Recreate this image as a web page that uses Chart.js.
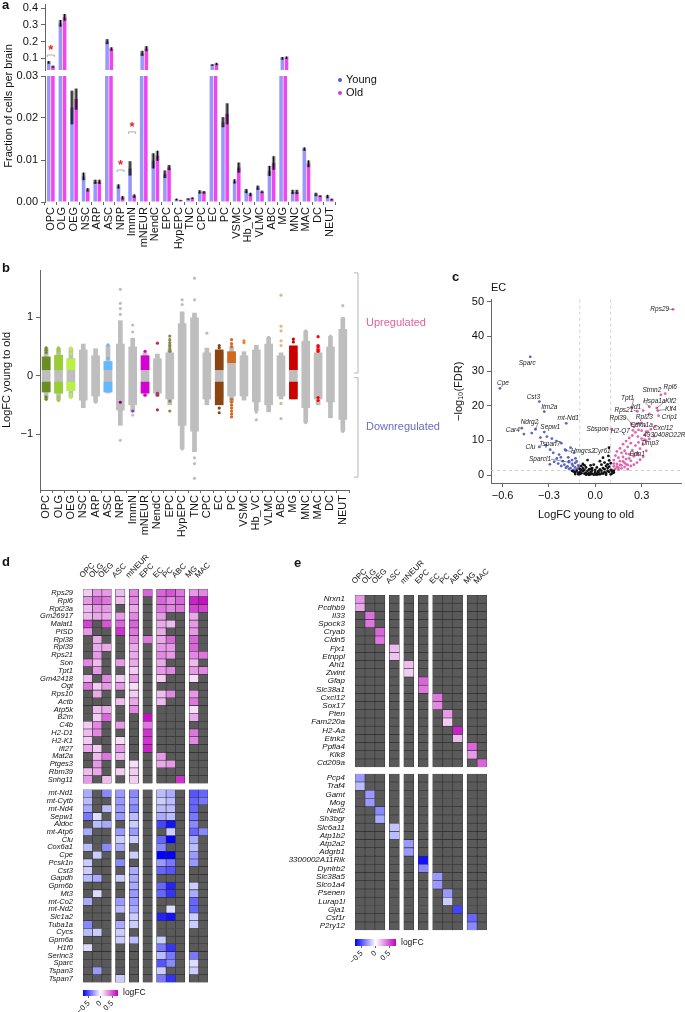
<!DOCTYPE html>
<html>
<head>
<meta charset="utf-8">
<script src="https://cdn.jsdelivr.net/npm/chart.js@4.4.0/dist/chart.umd.min.js"></script>
<style>
  body { margin: 0; background: #fff; font-family: "Liberation Sans", Arial, sans-serif; }
  #page { position: relative; width: 685px; height: 1012px; overflow: hidden; }
  canvas, .t { position: absolute; }
  .t { white-space: nowrap; color: #111; }
  .pl { font-weight: bold; font-size: 13px; }
  .dot { display: inline-block; width: 4px; height: 4px; border-radius: 2px; margin-right: 4px; vertical-align: middle; }
</style>
</head>
<body>
<div id="page">
  <canvas id="aTop" width="345" height="86" style="left:0;top:-6px"></canvas>
  <canvas id="aBot" width="345" height="186" style="left:0;top:66px"></canvas>
  <canvas id="b" width="445" height="295" style="left:0;top:250px"></canvas>
  <canvas id="c" width="233" height="232" style="left:452px;top:290px"></canvas>
  <canvas id="dUp" width="230" height="235" style="left:0;top:555px"></canvas>
  <canvas id="dDown" width="230" height="206" style="left:0;top:783px"></canvas>
  <canvas id="dBar" width="65" height="27" style="left:70px;top:985px"></canvas>
  <canvas id="eUp" width="270" height="214" style="left:240px;top:560px"></canvas>
  <canvas id="eDown" width="270" height="170" style="left:240px;top:767px"></canvas>
  <canvas id="eBar" width="70" height="28" style="left:340px;top:934px"></canvas>

  <div class="t pl" style="left:2px;top:-3px">a</div>
  <div class="t" style="left:8px;top:106px;font-size:11px;transform:translate(-50%,-50%) rotate(-90deg)">Fraction of cells per brain</div>
  <div class="t" style="left:338px;top:73px;font-size:11px"><span class="dot" style="background:#4a5bd0"></span>Young</div>
  <div class="t" style="left:338px;top:86px;font-size:11px"><span class="dot" style="background:#d040d0"></span>Old</div>
  <div class="t pl" style="left:2px;top:260px">b</div>
  <div class="t pl" style="left:452px;top:269px">c</div>
  <div class="t" style="left:491px;top:281px;font-size:11px">EC</div>
  <div class="t pl" style="left:2px;top:554px">d</div>
  <div class="t pl" style="left:294px;top:555px">e</div>
  <div class="t" style="left:123px;top:987px;font-size:8.5px">logFC</div>
  <div class="t" style="left:401px;top:937px;font-size:8.5px">logFC</div>
</div>

<script>
// ---------- panel a: fraction of cells ----------
const cellTypes = ['OPC','OLG','OEG','NSC','ARP','ASC','NRP','ImmN','mNEUR','NendC','EPC','HypEPC','TNC','CPC','EC','PC','VSMC','Hb_VC','VLMC','ABC','MG','MNC','MAC','DC','NEUT'];
const youngFrac = [0.076,0.31,0.0225,0.0061,0.0048,0.2,0.0037,0.008,0.13,0.0098,0.0066,0.0006,0.0007,0.0024,0.06,0.019,0.0049,0.0026,0.0034,0.0074,0.1,0.0024,0.0126,0.0018,0.0013];
const oldFrac   = [0.05,0.346,0.0245,0.0029,0.0048,0.156,0.001,0.0014,0.158,0.011,0.0082,0.0004,0.0009,0.0023,0.066,0.021,0.0082,0.0018,0.0024,0.0093,0.104,0.0024,0.0091,0.0014,0.0006];
const youngErr  = [0.008,0.02,0.004,0.0009,0.0005,0.015,0.0005,0.0017,0.015,0.0018,0.0009,0.0002,0.0002,0.0004,0.005,0.0012,0.0005,0.0005,0.0005,0.0012,0.008,0.0005,0.0004,0.0004,0.0004];
const oldErr    = [0.006,0.02,0.0025,0.0004,0.0005,0.01,0.0004,0.0004,0.015,0.0012,0.0006,0.0001,0.0002,0.0003,0.007,0.0025,0.0012,0.0004,0.0003,0.0016,0.007,0.0005,0.0008,0.0002,0.0002];
const fracTicksTop = [0.1,0.2,0.3,0.4];
const fracTicksBot = [0,0.01,0.02,0.03];
const starCats = ['OPC','NRP','ImmN'];
const starY    = [0.16,0.0092,0.0183];
const bracketY = [0.12,0.0076,0.0167];

// ---------- panel b: logFC per cell type ----------
const fcTailLo = [-0.4,-0.42,-0.37,-0.55,-0.45,-0.3,-0.85,-0.62,-0.35,-0.35,-0.5,-1.25,-1.3,-0.5,-0.45,-0.45,-0.42,-0.6,-0.62,-0.4,-0.4,-0.8,-0.5,-0.72,-0.95];
const fcTailHi = [0.48,0.48,0.48,0.55,0.47,0.53,0.95,0.65,0.4,0.38,0.45,1.1,1.08,0.48,0.45,0.5,0.42,0.53,0.66,0.4,0.5,0.77,0.5,0.68,1.0];
const fcCoreLo = [-0.28,-0.3,-0.25,-0.42,-0.35,-0.28,-0.59,-0.5,-0.3,-0.3,-0.4,-0.85,-0.95,-0.4,-0.4,-0.35,-0.35,-0.45,-0.5,-0.35,-0.35,-0.55,-0.4,-0.45,-0.75];
const fcCoreHi = [0.33,0.35,0.3,0.45,0.35,0.25,0.55,0.5,0.35,0.3,0.4,0.9,1.0,0.4,0.4,0.4,0.35,0.45,0.55,0.35,0.4,0.6,0.4,0.5,0.8];
const N = null;
const upBandLo   = [0.1,0.1,0.1,N,N,0.1,N,N,0.1,N,N,N,N,N,0.1,0.22,N,N,N,N,0.1,N,N,N,N];
const upBandHi   = [0.33,0.36,0.3,N,N,0.25,N,N,0.35,N,N,N,N,N,0.45,0.42,N,N,N,N,0.52,N,N,N,N];
const downBandLo = [-0.28,-0.3,-0.26,N,N,-0.28,N,N,-0.3,N,N,N,N,N,-0.5,N,N,N,N,N,-0.4,N,N,N,N];
const downBandHi = [-0.1,-0.1,-0.1,N,N,-0.1,N,N,-0.1,N,N,N,N,N,-0.1,N,N,N,N,N,-0.1,N,N,N,N];
const outCat = ['OPC','OPC','OPC','OPC','OPC','OLG','OLG','OLG','OLG','OLG','OEG','OEG','OEG','OEG','OEG','ARP','ASC','ASC',
  'NRP','NRP','NRP','NRP','NRP','NRP','NRP','NRP','ImmN','ImmN','ImmN','ImmN','mNEUR','mNEUR','NendC','NendC','NendC','NendC',
  'EPC','EPC','EPC','EPC','EPC','EPC','EPC','EPC','EPC','HypEPC','HypEPC','HypEPC','HypEPC','TNC','TNC','TNC','TNC','TNC','CPC',
  'EC','EC','EC','EC','PC','PC','PC','PC','PC','PC','PC','PC','PC','PC','VSMC','VSMC','Hb_VC','Hb_VC','VLMC',
  'ABC','ABC','ABC','ABC','ABC','ABC','ABC','MG','MG','MNC','MNC','MAC','MAC','MAC','MAC','MAC','MAC','MAC','DC','DC','NEUT','NEUT','NEUT','NEUT'];
const outFC = [0.48,0.44,0.4,-0.4,-0.36,0.48,0.45,0.42,-0.42,-0.36,0.48,0.45,0.38,-0.37,-0.32,-0.45,0.53,0.3,
  1.48,1.24,1.15,1.05,0.85,-1.1,-0.75,-0.45,0.87,0.75,-0.67,-0.6,0.42,-0.33,0.56,-0.3,-0.33,-0.58,
  0.68,0.62,0.57,0.53,0.5,0.46,0.42,-0.43,-0.6,1.3,1.22,-1.25,-1.05,1.67,1.3,-1.4,-1.5,-1.75,0.73,
  0.52,0.48,-0.55,-0.63,0.62,0.55,0.5,-0.4,-0.45,-0.5,-0.55,-0.6,-0.65,-0.7,0.6,0.57,-0.62,-0.75,0.66,
  1.38,0.85,0.77,0.6,0.52,-0.47,-0.73,0.63,0.58,0.77,-0.8,0.67,0.52,0.5,0.45,0.42,-0.37,-0.42,0.68,-0.7,1.2,0.98,0.95,-0.95];
const outSig = [1,1,1,1,1,1,1,1,1,1,1,1,1,1,1,0,1,1,
  0,0,0,0,0,0,0,1,0,0,0,1,1,1,1,1,1,1,
  1,1,1,1,1,1,1,1,1,0,0,0,0,0,0,0,0,0,0,
  1,1,1,1,1,1,1,1,1,1,1,1,1,1,1,1,0,0,0,
  1,1,1,1,1,1,0,1,1,0,0,1,1,1,1,1,1,1,0,0,0,0,0,0];
const fcTicks = [-1,0,1];
const bracketRanges = [[0.05,1.76],[-1.73,-0.03]];

// ---------- panel c: EC volcano ----------
const nsPts = [[-0.14,1.0],[-0.13,0.8],[-0.12,1.2],[-0.11,0.6],[-0.1,0.9],[-0.09,0.5],[-0.08,1.1],[-0.07,0.4],[-0.06,0.7],[-0.05,0.3],
  [-0.04,0.5],[-0.03,0.2],[-0.02,0.4],[-0.01,0.1],[0,0.2],[0.01,0.1],[0.02,0.3],[0.03,0.2],[0.04,0.5],[0.05,0.4],
  [0.06,0.8],[0.07,0.6],[0.08,1.2],[0.09,0.9],[0.1,1.5],[0.11,1.1],[0.12,1.2],[-0.15,1.2],[-0.1,1.8],[-0.09,2.6],
  [-0.08,1.9],[-0.07,1.5],[-0.06,2.2],[-0.05,1.2],[-0.04,1.6],[-0.03,0.9],[-0.02,1.3],[0,0.8],[0.02,1.1],[0.03,1.6],
  [0.04,1.2],[0.05,2.0],[0.06,1.7],[0.07,2.6],[0.08,3.1],[0.09,2.4],[0.1,3.4],[-0.08,3.2],[-0.05,4.3],[-0.03,2.8],
  [0.01,2.2],[0.04,3.0],[0.06,3.6],[0.09,4.2],[-0.06,0.1],[0.07,0.1],[-0.1,0.3],[0.11,0.5],[-0.13,0.3],[0.12,0.7],
  [-0.02,2.0],[0,1.5],[0.03,4.0],[-0.01,3.0],[0.05,5.0],[-0.07,2.8],[-0.04,0.05],[0.0,0.5],[0.02,0.7],[-0.03,1.8],
  [-0.11,0.2],[0.1,0.2],[0.085,5.5],[-0.09,1.4],[0.08,2.0]];
const downPts = [[-0.411,12.1],[-0.355,10.8],[-0.313,11.1],[-0.281,10.5],[-0.251,9.8],[-0.319,8.6],[-0.292,7.3],[-0.272,6.4],
  [-0.234,5.9],[-0.223,5.1],[-0.294,3.1],[-0.196,7.3],[-0.16,7.9],[-0.138,6.4],[-0.249,4.8],[-0.266,3.8],[-0.175,5.1],[-0.128,4.8],
  [-0.2,3.0],[-0.18,2.5],[-0.16,2.0],[-0.15,3.2],[-0.13,2.2],[-0.12,1.6],[-0.14,1.5],[-0.17,1.8],[-0.11,2.8],[-0.19,2.1],
  [-0.22,2.6],[-0.13,3.5],[-0.15,4.3],[-0.12,3.9],[-0.17,4.0],[-0.21,4.0],[-0.24,3.3],[-0.11,1.9],[-0.105,2.5],[-0.145,2.7],[-0.476,13.5]];
const upPts = [[0.11,1.5],[0.12,2.5],[0.13,1.8],[0.14,3.2],[0.15,2.1],[0.16,4.0],[0.17,2.8],[0.18,5.2],[0.19,3.5],[0.2,4.6],
  [0.21,2.9],[0.22,6.0],[0.23,4.1],[0.24,7.2],[0.25,5.4],[0.26,8.5],[0.27,6.3],[0.28,9.4],[0.29,7.6],[0.3,10.5],
  [0.31,8.8],[0.32,11.6],[0.33,9.9],[0.34,12.5],[0.36,13.2],[0.12,4.3],[0.13,5.6],[0.14,6.8],[0.15,5.0],[0.16,7.7],
  [0.17,6.4],[0.18,8.9],[0.19,7.0],[0.2,9.8],[0.21,8.1],[0.22,10.7],[0.23,9.2],[0.24,11.4],[0.26,12.3],[0.28,13.0],
  [0.3,12.8],[0.15,1.6],[0.17,1.9],[0.19,2.3],[0.21,1.7],[0.23,2.6],[0.25,3.0],[0.27,3.6],[0.29,4.4],[0.31,5.3],
  [0.12,3.3],[0.14,2.4],[0.16,2.9],[0.18,3.9],[0.2,3.1],[0.22,4.8],[0.25,6.1],[0.28,5.8],[0.33,7.0],[0.35,10.4],
  [0.38,11.2],[0.32,14.2],[0.27,14.8],[0.25,13.9],[0.276,11.1]];
const labGenes = ['Rps29','Sparc','Cpe','Cst3','Itm2a','mt-Nd1','Ndrg2','Car4','Sepw1','Clu','Tspan7','Hmgcs2','Sparcl1',
  'Sbspon','H2-Q7','Rpl39','Rps21','Tpt1','Id1','Stmn2','Rpl6','Hspa1a','Klf2','Klf4','Crip1','Rpl23','Cdkn1a','Cxcl12',
  '4930408O22Rik','Timp3','Cyr61','Edn1'];
const labFC  = [0.504,-0.421,-0.617,-0.362,-0.33,-0.188,-0.387,-0.462,-0.33,-0.362,-0.22,-0.19,-0.17,
  0.106,0.244,0.234,0.272,0.234,0.31,0.425,0.453,0.35,0.398,0.404,0.41,0.35,0.3,0.387,0.33,0.32,0.089,0.2];
const labFDR = [47.8,34.1,25,21.2,18.3,14.9,13.2,11.8,12.4,8.1,9.2,7.1,3.7,
  13.2,12.9,14.8,18.4,19.5,18.6,23.1,23.5,19.7,19.3,18.6,17.1,17.6,15,14,12.5,10.2,7.9,6.2];
const labPlace = { // [dx, dy, align, leader line]
  'Rps29':[-4,0,'right',1],'Sparc':[-3,6,'center',0],'Cpe':[3,-5,'center',0],'Cst3':[-6,-4,'center',0],
  'Itm2a':[5,-4,'center',0],'mt-Nd1':[2,-5,'center',0],'Ndrg2':[-6,-7,'center',1],'Car4':[-4,-4,'right',0],
  'Sepw1':[6,-5,'center',0],'Clu':[-4,0,'right',0],'Tspan7':[-1,1,'right',0],'Hmgcs2':[5,1,'left',1],
  'Sparcl1':[-18,-3,'right',1],'Sbspon':[-3,0,'right',0],'H2-Q7':[-3,1,'right',0],'Rpl39':[-5,-6,'right',1],
  'Rps21':[-4,-1,'right',1],'Tpt1':[-4,-9,'center',1],'Id1':[-2,-3,'right',0],'Stmn2':[-9,-5,'center',0],
  'Rpl6':[5,-6,'center',0],'Hspa1a':[5,-6,'center',1],'Klf2':[14,-7,'center',1],'Klf4':[13,-1,'center',1],
  'Crip1':[11,1,'center',0],'Rpl23':[-5,3,'center',0],'Cdkn1a':[0,2,'center',1],'Cxcl12':[8,2,'center',0],
  '4930408O22Rik':[-3,3,'left',0],'Timp3':[5,4,'center',0],'Cyr61':[-7,4,'center',0],'Edn1':[11,1,'center',0]
};
const volcanoXTicks = [-0.6,-0.3,0,0.3];
const volcanoYTicks = [0,10,20,30,40,50];
const fcCut = 0.1;
const fdrCut = 1.3;

// ---------- panels d, e: heatmaps ----------
const hmCols = ['OPC','OLG','OEG','ASC','mNEUR','EPC','EC','PC','ABC','MG','MAC'];
const hmGroups = [3,1,1,1,3,2];
const dUpGenes = ['Rps29','Rpl6','Rpl23a','Gm26917','Malat1','PISD','Rpl38','Rpl39','Rps21','Son','Tpt1','Gm42418','Ogt',
  'Rps10','Actb','Atp5k','B2m','C4b','H2-D1','H2-K1','Ifi27','Mat2a','Ptges3','Rbm39','Snhg11'];
const dUpVals = [
  [0.15,0.3,0.3,0.2,0.35,0.45,0.45,0.5,0.4,0.3,0.35],
  [0.3,0.45,0.4,0.2,0.35,N,0.45,0.35,0.45,0.65,0.7],
  [0.2,0.3,0.3,N,0.25,N,0.4,0.35,0.4,0.55,0.55],
  [0.2,0.25,0.25,0.3,0.35,N,0.3,N,N,0.25,N],
  [0.55,N,0.5,0.45,0.45,N,0.25,0.2,N,0.3,N],
  [0.3,N,N,0.6,0.4,N,0.25,N,N,0.3,N],
  [N,0.25,N,N,0.35,0.4,0.25,0.45,N,0.45,N],
  [N,0.25,0.25,N,0.25,N,0.3,0.3,N,0.45,N],
  [N,0.3,N,N,0.25,N,0.35,0.3,N,0.35,0.4],
  [0.35,0.2,N,0.3,0.25,N,0.25,N,N,0.2,N],
  [N,0.3,N,N,0.15,N,0.3,0.35,N,0.3,0.35],
  [0.2,N,0.35,0.15,0.3,N,0.15,N,N,0.1,N],
  [0.4,0.15,0.3,0.3,0.1,N,N,N,N,N,N],
  [N,0.25,N,N,0.15,N,0.2,0.35,N,0.3,N],
  [N,N,N,0.2,0.25,N,0.2,N,N,0.4,N],
  [N,0.2,0.25,N,0.35,N,N,N,N,0.1,N],
  [N,0.15,0.45,N,N,0.7,N,N,N,0.25,N],
  [0.15,0.35,N,0.3,N,0.4,N,N,N,N,N],
  [0.2,0.35,N,N,N,0.6,N,N,N,0.4,N],
  [0.15,N,N,0.1,N,0.6,N,N,N,0.35,N],
  [0.25,0.15,N,0.3,N,0.65,N,N,N,N,N],
  [N,0.2,0.4,0.2,N,N,0.3,N,N,N,N],
  [N,0.3,N,N,0.1,N,0.25,0.3,N,N,N],
  [0.2,0.25,N,0.15,0.15,N,N,N,N,N,N],
  [0.3,N,0.2,N,0.15,N,N,N,0.6,N,N]
];
const dDownGenes = ['mt-Nd1','mt-Cytb','mt-Nd4','Sepw1','Aldoc','mt-Atp6','Clu','Cox6a1','Cpe','Pcsk1n','Cst3','Gapdh','Gpm6b',
  'Mt3','mt-Co2','mt-Nd2','Slc1a2','Tuba1a','Cycs','Gpm6a','H1f0','Serinc3','Sparc','Tspan3','Tspan7'];
const dDownVals = [
  [-0.25,N,-0.35,-0.3,-0.35,N,-0.2,-0.25,N,-0.5,-0.45],
  [-0.2,N,N,-0.3,-0.3,N,-0.15,-0.2,N,-0.45,-0.4],
  [-0.25,N,-0.2,-0.3,-0.35,N,-0.2,-0.2,N,-0.45,N],
  [-0.4,-0.1,N,-0.3,-0.2,N,-0.25,-0.2,N,-0.4,N],
  [N,-0.2,-0.25,N,-0.15,N,-0.55,-0.7,N,-0.35,N],
  [-0.25,N,N,-0.3,-0.3,N,N,-0.15,N,-0.45,-0.35],
  [N,N,N,-0.15,-0.15,N,-0.45,-0.75,N,-0.25,N],
  [-0.2,N,-0.35,-0.25,N,N,-0.35,N,N,-0.2,N],
  [N,-0.15,N,N,-0.15,N,-0.75,-0.8,N,-0.3,N],
  [-0.15,N,N,-0.35,N,N,-0.3,-0.4,N,-0.3,N],
  [-0.15,N,N,N,-0.25,N,-0.45,-0.5,N,N,N],
  [-0.2,-0.25,N,-0.15,-0.25,N,N,N,N,N,N],
  [N,N,N,N,-0.25,N,-0.45,-0.65,N,-0.15,N],
  [N,-0.1,N,N,-0.3,N,-0.45,-0.6,N,-0.25,N],
  [-0.25,N,N,-0.3,-0.3,N,N,N,N,-0.45,N],
  [N,N,N,-0.2,-0.25,N,N,-0.1,N,-0.45,N],
  [N,N,N,N,-0.15,N,-0.65,-0.7,N,-0.15,N],
  [-0.35,N,N,-0.25,-0.15,N,N,N,N,-0.15,N],
  [-0.2,-0.15,N,-0.15,N,N,N,N,N,N,N],
  [N,N,N,-0.15,-0.2,N,-0.15,N,N,N,N],
  [-0.1,N,N,N,N,N,-0.4,-0.6,N,N,N],
  [N,N,N,N,N,N,-0.2,-0.4,N,-0.4,N],
  [N,N,N,N,N,N,-0.5,-0.35,N,-0.1,N],
  [N,-0.3,N,N,N,N,-0.15,N,N,-0.15,N],
  [N,N,N,-0.15,N,N,-0.4,-0.6,N,N,N]
];
const eUpGenes = ['Nrxn1','Pcdhb9','Il33','Spock3','Cryab','Cldn5','Fjx1','Etnppl','Ahi1','Zwint','Gfap','Slc38a1','Cxcl12',
  'Sox17','Pten','Fam220a','H2-Aa','Etnk2','Ppfia4','Klk8','Cd209a'];
const eUpCol = [0,0,1,1,2,2,3,3,4,4,5,5,6,6,7,7,8,8,9,9,10];
const eUpVal = [0.3,0.25,0.42,0.4,0.45,0.4,0.2,0.18,0.2,0.15,0.45,0.4,0.4,0.35,0.3,0.15,0.65,0.2,0.45,0.3,0.45];
const eDownGenes = ['Pcp4','Traf4','Gamt','Mog','Nell2','Sh3bgr','Slc6a11','Atp1b2','Atp2a2','Adgrb1','3300002A11Rik','Dynlrb2',
  'Slc38a5','Slco1a4','Psenen','Lurap1l','Gja1','Csf1r','P2ry12'];
const eDownCol = [0,0,1,1,2,2,3,3,4,4,5,5,6,6,7,7,8,9,9];
const eDownVal = [-0.3,-0.2,-0.3,-0.3,-0.35,-0.25,-0.18,-0.2,-0.3,-0.3,-0.7,-0.35,-0.3,-0.3,-0.3,-0.15,-0.55,-0.45,-0.35];
const logFCTicks = [-0.5,0,0.5];

// ---------- styling ----------
Chart.defaults.font.family = '"Liberation Sans", Arial, sans-serif';
Chart.defaults.color = '#111';
Chart.defaults.animation = false;
Chart.defaults.responsive = false;
Chart.defaults.plugins.legend.display = false;
Chart.defaults.plugins.tooltip.enabled = false;

const youngColor = 'rgb(152,152,252)';
const oldColor = 'rgb(240,70,240)';
const axisColor = '#666';
const bGray = '#bebebe';
const bColors = { OPC:'#6b8e23', OLG:'#9acd32', OEG:'#b8f045', ASC:'#63b8ff', NRP:'#8b008b', ImmN:'#9932cc', mNEUR:'#d400d4',
  NendC:'#b03060', EPC:'#8b864e', EC:'#8b4513', PC:'#d2691e', VSMC:'#f08030', ABC:'#deb887', MG:'#cd0000', MAC:'#ff0000' };
const naColor = '#5a5a5a';

const minus = (v, d) => (v < 0 ? '\u2212' : '') + Math.abs(v).toFixed(d);
const setTicks = vals => s => { s.ticks = vals.map(v => ({ value: v })); };

function fcColor(v) {
  if (v === null || v === undefined) return naColor;
  const t = Math.min(Math.abs(v) / 0.75, 1);
  if (v < 0) return `rgb(${Math.round(255 * (1 - t))},${Math.round(255 * (1 - t))},255)`;
  return `rgb(${Math.round(255 - 63 * t)},${Math.round(255 * (1 - t))},${Math.round(255 - 63 * t)})`;
}

// error bars for panel a
const errorBars = {
  id: 'errorBars',
  afterDatasetsDraw(chart) {
    const { ctx, chartArea: ca, scales: { y } } = chart;
    ctx.save();
    ctx.beginPath();
    ctx.rect(ca.left, ca.top, ca.right - ca.left, ca.bottom - ca.top);
    ctx.clip();
    chart.data.datasets.forEach((ds, di) => {
      chart.getDatasetMeta(di).data.forEach((bar, i) => {
        const v = ds.data[i], e = ds.errors[i];
        const y1 = y.getPixelForValue(v + e), y0 = y.getPixelForValue(v - e);
        ctx.fillStyle = 'rgba(45,45,45,0.55)';
        ctx.fillRect(bar.x - bar.width / 2, y1, bar.width, y0 - y1);
        ctx.strokeStyle = '#000';
        ctx.lineWidth = 1;
        ctx.beginPath();
        ctx.moveTo(bar.x, y1);
        ctx.lineTo(bar.x, y0);
        ctx.stroke();
      });
    });
    ctx.restore();
  }
};

const sigStars = {
  id: 'sigStars',
  afterDatasetsDraw(chart) {
    const { ctx, scales: { x, y } } = chart;
    ctx.save();
    starCats.forEach((c, i) => {
      if (starY[i] < y.min || starY[i] > y.max) return;
      const px = x.getPixelForValue(cellTypes.indexOf(c));
      const by = y.getPixelForValue(bracketY[i]);
      ctx.strokeStyle = '#999';
      ctx.lineWidth = 0.8;
      ctx.beginPath();
      ctx.moveTo(px - 3.5, by + 2); ctx.lineTo(px - 3.5, by); ctx.lineTo(px + 3.5, by); ctx.lineTo(px + 3.5, by + 2);
      ctx.stroke();
      ctx.fillStyle = '#f02020';
      ctx.font = 'bold 13px "Liberation Sans"';
      ctx.textAlign = 'center';
      ctx.fillText('*', px, y.getPixelForValue(starY[i]) + 6);
    });
    ctx.restore();
  }
};

function fracChart(id, min, max, ticks, decimals, showX, pad) {
  return new Chart(document.getElementById(id), {
    type: 'bar',
    data: {
      labels: cellTypes,
      datasets: [
        { label: 'Young', data: youngFrac, errors: youngErr, backgroundColor: youngColor },
        { label: 'Old', data: oldFrac, errors: oldErr, backgroundColor: oldColor }
      ]
    },
    options: {
      layout: { padding: pad },
      datasets: { bar: { categoryPercentage: 0.72, barPercentage: 0.85 } },
      scales: {
        x: {
          display: showX,
          ticks: { autoSkip: false, minRotation: 90, maxRotation: 90, padding: 2, font: { size: 11 } },
          grid: { drawOnChartArea: false, tickLength: 3, color: axisColor },
          border: { display: false },
          afterFit: s => { if (showX) s.height = 50; }
        },
        y: {
          min: min, max: max,
          afterBuildTicks: setTicks(ticks),
          ticks: { font: { size: 11 }, padding: 3, callback: v => v.toFixed(decimals) },
          grid: { drawOnChartArea: false, tickLength: 4, color: axisColor },
          border: { color: axisColor },
          afterFit: s => { s.width = 45; }
        }
      }
    },
    plugins: [errorBars, sigStars]
  });
}

fracChart('aTop', 0.03, 0.426, fracTicksTop, 1, false, { top: 10, right: 8, bottom: 10, left: 0 });
fracChart('aBot', 0, 0.03, fracTicksBot, 2, true, { top: 10, right: 8, bottom: 0, left: 0 });

// ---------- panel b ----------
const regBrackets = {
  id: 'regBrackets',
  afterDraw(chart) {
    const { ctx, chartArea: ca, scales: { y } } = chart;
    const bx = ca.right + 9;
    ctx.save();
    ctx.strokeStyle = '#b5b5b5';
    ctx.lineWidth = 1;
    bracketRanges.forEach(([lo, hi]) => {
      const y0 = y.getPixelForValue(lo), y1 = y.getPixelForValue(hi);
      ctx.beginPath();
      ctx.moveTo(bx - 4, y1); ctx.lineTo(bx, y1); ctx.lineTo(bx, y0); ctx.lineTo(bx - 4, y0);
      ctx.stroke();
    });
    ctx.font = '11px "Liberation Sans"';
    ctx.textBaseline = 'middle';
    ctx.fillStyle = '#e0609a';
    ctx.fillText('Upregulated', ca.right + 17, y.getPixelForValue(0.9));
    ctx.fillStyle = '#6a6ac4';
    ctx.fillText('Downregulated', ca.right + 17, y.getPixelForValue(-0.88));
    ctx.restore();
  }
};

new Chart(document.getElementById('b'), {
  type: 'bar',
  data: {
    labels: cellTypes,
    datasets: [
      { order: 4, data: cellTypes.map((c, i) => [fcTailLo[i], fcTailHi[i]]), backgroundColor: bGray, barPercentage: 0.38 },
      { order: 3, data: cellTypes.map((c, i) => [fcCoreLo[i], fcCoreHi[i]]), backgroundColor: bGray, barPercentage: 0.7 },
      { order: 2, data: cellTypes.map((c, i) => upBandLo[i] === null ? null : [upBandLo[i], upBandHi[i]]),
        backgroundColor: cellTypes.map(c => bColors[c] || bGray), barPercentage: 0.7 },
      { order: 1, data: cellTypes.map((c, i) => downBandLo[i] === null ? null : [downBandLo[i], downBandHi[i]]),
        backgroundColor: cellTypes.map(c => bColors[c] || bGray), barPercentage: 0.7 },
      { order: 0, type: 'scatter', data: outCat.map((c, i) => ({ x: c, y: outFC[i] })),
        pointBackgroundColor: outCat.map((c, i) => outSig[i] ? bColors[c] : bGray),
        pointBorderWidth: 0, pointRadius: 1.6 }
    ]
  },
  options: {
    layout: { padding: { top: 20, right: 96, bottom: 0, left: 0 } },
    datasets: { bar: { grouped: false, categoryPercentage: 1 } },
    scales: {
      x: {
        type: 'category',
        ticks: { autoSkip: false, minRotation: 90, maxRotation: 90, padding: 2, font: { size: 11 } },
        grid: { drawOnChartArea: false, tickLength: 3, color: axisColor },
        border: { color: axisColor },
        afterFit: s => { s.height = 55; }
      },
      y: {
        min: -1.95, max: 1.81,
        afterBuildTicks: setTicks(fcTicks),
        ticks: { font: { size: 11 }, padding: 3, callback: v => minus(v, 0) },
        grid: { drawOnChartArea: false, tickLength: 4, color: axisColor },
        border: { color: axisColor },
        title: { display: true, text: 'LogFC young to old', font: { size: 11 }, padding: { top: 0, bottom: 2 } },
        afterFit: s => { s.width = 40; }
      }
    }
  },
  plugins: [regBrackets]
});

// ---------- panel c ----------
const volcanoGuides = {
  id: 'volcanoGuides',
  beforeDatasetsDraw(chart) {
    const { ctx, chartArea: ca, scales: { x, y } } = chart;
    ctx.save();
    ctx.strokeStyle = '#c4c4c4';
    ctx.lineWidth = 0.8;
    ctx.setLineDash([3, 3]);
    [-fcCut, fcCut].forEach(v => {
      const px = x.getPixelForValue(v);
      ctx.beginPath(); ctx.moveTo(px, ca.top); ctx.lineTo(px, ca.bottom); ctx.stroke();
    });
    const py = y.getPixelForValue(fdrCut);
    ctx.beginPath(); ctx.moveTo(ca.left, py); ctx.lineTo(ca.right, py); ctx.stroke();
    ctx.restore();
  }
};

const volcanoLabels = {
  id: 'volcanoLabels',
  afterDatasetsDraw(chart) {
    const { ctx, scales: { x, y } } = chart;
    ctx.save();
    ctx.font = 'italic 6.5px "Liberation Sans"';
    ctx.textBaseline = 'middle';
    ctx.fillStyle = '#222';
    ctx.strokeStyle = '#333';
    ctx.lineWidth = 0.5;
    labGenes.forEach((g, i) => {
      const px = x.getPixelForValue(labFC[i]), py = y.getPixelForValue(labFDR[i]);
      const [dx, dy, align, line] = labPlace[g];
      const tx = px + dx, ty = py + dy;
      ctx.textAlign = align;
      ctx.fillText(g, tx, ty);
      if (line) {
        const w = ctx.measureText(g).width;
        const ex = align === 'center' ? tx + (dx < 0 ? w / 2 : -w / 2) : tx;
        ctx.beginPath(); ctx.moveTo(ex, ty); ctx.lineTo(px, py); ctx.stroke();
      }
    });
    ctx.restore();
  }
};

const isUp = (fc, f) => fc > fcCut && f > fdrCut;
const isDown = (fc, f) => fc < -fcCut && f > fdrCut;
const labPts = labGenes.map((g, i) => [labFC[i], labFDR[i]]);
const toXY = arr => arr.map(([x, y]) => ({ x, y }));

new Chart(document.getElementById('c'), {
  type: 'scatter',
  data: {
    datasets: [
      { data: toXY(nsPts.concat(labPts.filter(([a, b]) => !isUp(a, b) && !isDown(a, b)))), backgroundColor: '#111' },
      { data: toXY(downPts.concat(labPts.filter(([a, b]) => isDown(a, b)))), backgroundColor: '#5d64c4' },
      { data: toXY(upPts.concat(labPts.filter(([a, b]) => isUp(a, b)))), backgroundColor: '#e066ac' }
    ]
  },
  options: {
    layout: { padding: { top: 8, right: 1, bottom: 0, left: 0 } },
    elements: { point: { radius: 1.4, borderWidth: 0 } },
    scales: {
      x: {
        type: 'linear', min: -0.675, max: 0.555,
        afterBuildTicks: setTicks(volcanoXTicks),
        ticks: { font: { size: 11 }, padding: 2, callback: v => minus(v, 1) },
        grid: { drawOnChartArea: false, tickLength: 4, color: axisColor },
        border: { color: axisColor },
        title: { display: true, text: 'LogFC young to old', font: { size: 11 }, padding: { top: 2, bottom: 0 } },
        afterFit: s => { s.height = 39; }
      },
      y: {
        min: -2.3, max: 50.6,
        afterBuildTicks: setTicks(volcanoYTicks),
        ticks: { font: { size: 11 }, padding: 3 },
        grid: { drawOnChartArea: false, tickLength: 4, color: axisColor },
        border: { color: axisColor },
        title: { display: true, text: '\u2212log\u2081\u2080(FDR)', font: { size: 11 }, padding: { top: 0, bottom: 2 } },
        afterFit: s => { s.width = 39; }
      }
    }
  },
  plugins: [volcanoGuides, volcanoLabels]
});

// ---------- heatmaps ----------
const gapUnits = 0.45;
const colStart = [];
{
  let pos = 0;
  hmGroups.forEach(n => {
    for (let k = 0; k < n; k++) { colStart.push(pos); pos += 1; }
    pos += gapUnits;
  });
}
const hmWidth = colStart[colStart.length - 1] + 1;

function heatmap(id, genes, matrix, yAxisW, showCols, xh, pad, fontSize) {
  return new Chart(document.getElementById(id), {
    type: 'bar',
    data: {
      labels: genes,
      datasets: hmCols.map((c, j) => ({
        label: c,
        data: genes.map(() => [colStart[j], colStart[j] + 1]),
        backgroundColor: genes.map((g, i) => fcColor(matrix[i][j])),
        borderColor: '#2c2c2c',
        borderWidth: 0.6,
        borderSkipped: false
      }))
    },
    options: {
      indexAxis: 'y',
      layout: { padding: pad },
      datasets: { bar: { grouped: false, barPercentage: 1, categoryPercentage: 1 } },
      scales: {
        x: {
          type: 'linear', position: 'top', min: 0, max: hmWidth, display: showCols,
          afterBuildTicks: s => { s.ticks = colStart.map(v => ({ value: v + 0.5 })); },
          ticks: { autoSkip: false, minRotation: 45, maxRotation: 45, padding: 1, font: { size: 8 },
                   callback: (v, i) => hmCols[i] },
          grid: { display: false },
          border: { display: false },
          afterFit: s => { if (showCols) s.height = xh; }
        },
        y: {
          ticks: { autoSkip: false, padding: 2, font: { size: fontSize, style: 'italic' } },
          grid: { display: false },
          border: { display: false },
          afterFit: s => { s.width = yAxisW; }
        }
      }
    }
  });
}

const oneColMatrix = (genes, cols, vals) => genes.map((g, i) => hmCols.map((c, j) => (j === cols[i] ? vals[i] : null)));

heatmap('dUp', dUpGenes, dUpVals, 83, true, 34, { top: 0, right: 22, bottom: 6, left: 0 }, 7.5);
heatmap('dDown', dDownGenes, dDownVals, 83, false, 0, { top: 6, right: 22, bottom: 6, left: 0 }, 7.5);
heatmap('eUp', eUpGenes, oneColMatrix(eUpGenes, eUpCol, eUpVal), 115, true, 35, { top: 0, right: 23, bottom: 6, left: 0 }, 8);
heatmap('eDown', eDownGenes, oneColMatrix(eDownGenes, eDownCol, eDownVal), 115, false, 0, { top: 6, right: 23, bottom: 6, left: 0 }, 8);

function colorBar(id, pad) {
  return new Chart(document.getElementById(id), {
    type: 'bar',
    data: {
      labels: [''],
      datasets: [{
        data: [[-0.75, 0.75]],
        backgroundColor: ctx => {
          const { ctx: c, chartArea } = ctx.chart;
          if (!chartArea) return '#fff';
          const g = c.createLinearGradient(chartArea.left, 0, chartArea.right, 0);
          g.addColorStop(0, fcColor(-0.75));
          g.addColorStop(0.5, fcColor(0));
          g.addColorStop(1, fcColor(0.75));
          return g;
        }
      }]
    },
    options: {
      indexAxis: 'y',
      layout: { padding: pad },
      datasets: { bar: { barPercentage: 1, categoryPercentage: 1 } },
      scales: {
        x: {
          min: -0.75, max: 0.75,
          afterBuildTicks: setTicks(logFCTicks),
          ticks: { minRotation: 45, maxRotation: 45, padding: 1, font: { size: 7.5 }, callback: v => (v === 0 ? '0' : minus(v, 1)) },
          grid: { drawOnChartArea: false, tickLength: 2, color: axisColor },
          border: { display: false },
          afterFit: s => { s.height = 16; }
        },
        y: { display: false }
      }
    }
  });
}
colorBar('dBar', { top: 5, right: 17, bottom: 0, left: 13 });
colorBar('eBar', { top: 5, right: 14, bottom: 0, left: 15 });
</script>
</body>
</html>
